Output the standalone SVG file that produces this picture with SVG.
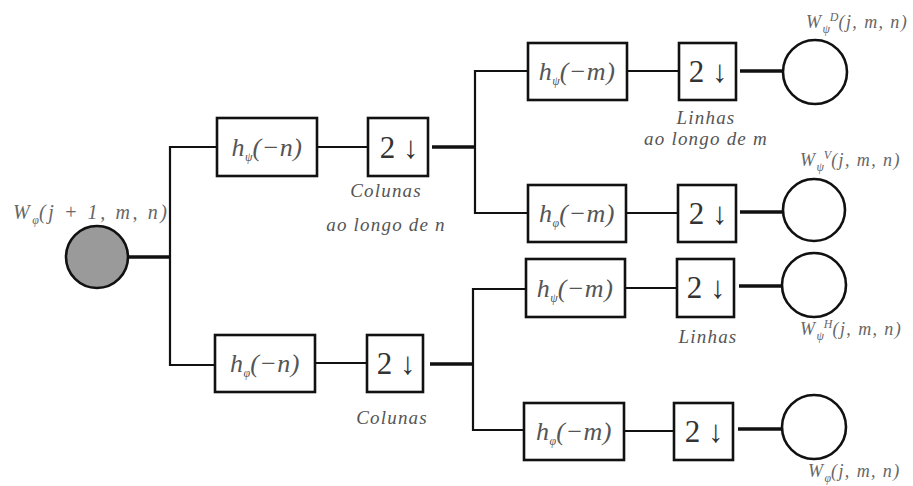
<svg xmlns="http://www.w3.org/2000/svg" width="913" height="486" viewBox="0 0 913 486">
<style>
.box{fill:#fff;stroke:#111;stroke-width:2.6}
.c{fill:none;stroke:#111;stroke-width:2.2}
.ct{fill:none;stroke:#111;stroke-width:3.6}
.circ{fill:#fff;stroke:#111;stroke-width:2.6}
.f{font-family:"Liberation Serif","Times New Roman",serif;font-style:italic;font-size:26px;fill:#555;text-anchor:middle;letter-spacing:0.5px}
.d{font-family:"Liberation Serif","Times New Roman",serif;font-size:31px;fill:#333;text-anchor:middle}
.lab{font-family:"Liberation Serif","Times New Roman",serif;font-style:italic;font-size:19px;fill:#555;text-anchor:middle;letter-spacing:1.2px}
.w{font-family:"Liberation Serif","Times New Roman",serif;font-style:italic;font-size:18px;fill:#666;letter-spacing:1.4px}
.s{font-size:12px;letter-spacing:0}
</style>
<rect width="913" height="486" fill="#fff"/>
<g id="connectors">
<line class="ct" x1="128" y1="257" x2="171" y2="257"/>
<polyline class="c" points="218,147 170,147 170,365 215,365"/>
<line class="c" x1="317" y1="147" x2="368" y2="147"/>
<line class="c" x1="315" y1="363" x2="367" y2="363"/>
<line class="ct" x1="432" y1="147" x2="476" y2="147"/>
<line class="ct" x1="430" y1="364" x2="474" y2="364"/>
<polyline class="c" points="528,71 475,71 475,213 528,213"/>
<polyline class="c" points="526,289 473,289 473,430 525,430"/>
<line class="c" x1="627" y1="71" x2="679" y2="71"/>
<line class="c" x1="626" y1="213" x2="678" y2="213"/>
<line class="c" x1="625" y1="288" x2="677" y2="288"/>
<line class="c" x1="624" y1="431" x2="674" y2="431"/>
<line class="ct" x1="740" y1="71" x2="783" y2="71"/>
<line class="ct" x1="740" y1="212" x2="783" y2="212"/>
<line class="ct" x1="739" y1="286" x2="782" y2="286"/>
<line class="ct" x1="738" y1="429" x2="782" y2="429"/>
</g>
<g id="input">
<circle cx="97" cy="257" r="31" fill="#9a9a9a" stroke="#111" stroke-width="2.6"/>
<text class="w" x="13" y="219" style="font-size:20px;letter-spacing:2.6px">W<tspan class="s" dy="5">φ</tspan><tspan dy="-5">(j + 1, m, n)</tspan></text>
</g>
<g id="filter-psi-n">
<rect class="box" x="217" y="118" width="100" height="58"/>
<text class="f" x="267" y="156">h<tspan class="s" dy="5">ψ</tspan><tspan dy="-5">(−n)</tspan></text>
</g>
<g id="down-col-top">
<rect class="box" x="368" y="118" width="60" height="58"/>
<text class="d" x="399" y="158">2 ↓</text>
<text class="lab" x="386" y="197">Colunas</text>
<text class="lab" x="386" y="231">ao longo de n</text>
</g>
<g id="filter-phi-n">
<rect class="box" x="215" y="335" width="100" height="57"/>
<text class="f" x="265" y="372">h<tspan class="s" dy="5">φ</tspan><tspan dy="-5">(−n)</tspan></text>
</g>
<g id="down-col-bottom">
<rect class="box" x="367" y="335" width="56" height="57"/>
<text class="d" x="396" y="374">2 ↓</text>
<text class="lab" x="392" y="424">Colunas</text>
</g>
<g id="filter-psi-m-1">
<rect class="box" x="528" y="43" width="99" height="57"/>
<text class="f" x="577" y="80">h<tspan class="s" dy="5">ψ</tspan><tspan dy="-5">(−m)</tspan></text>
</g>
<g id="down-row-1">
<rect class="box" x="679" y="43" width="57" height="57"/>
<text class="d" x="708" y="82">2 ↓</text>
<text class="lab" x="706" y="124">Linhas</text>
<text class="lab" x="706" y="145">ao longo de m</text>
</g>
<g id="out-D">
<circle class="circ" cx="815" cy="72" r="32"/>
<text class="w" x="806" y="28">W<tspan class="s" dy="5">ψ</tspan><tspan class="s" dy="-12">D</tspan><tspan dy="7">(j, m, n)</tspan></text>
</g>
<g id="filter-phi-m-1">
<rect class="box" x="528" y="185" width="98" height="57"/>
<text class="f" x="577" y="222">h<tspan class="s" dy="5">φ</tspan><tspan dy="-5">(−m)</tspan></text>
</g>
<g id="down-row-2">
<rect class="box" x="678" y="185" width="58" height="57"/>
<text class="d" x="708" y="224">2 ↓</text>
</g>
<g id="out-V">
<circle class="circ" cx="814" cy="210" r="31"/>
<text class="w" x="800" y="166">W<tspan class="s" dy="5">ψ</tspan><tspan class="s" dy="-12">V</tspan><tspan dy="7">(j, m, n)</tspan></text>
</g>
<g id="filter-psi-m-2">
<rect class="box" x="526" y="259" width="99" height="58"/>
<text class="f" x="575" y="297">h<tspan class="s" dy="5">ψ</tspan><tspan dy="-5">(−m)</tspan></text>
</g>
<g id="down-row-3">
<rect class="box" x="677" y="259" width="57" height="58"/>
<text class="d" x="706" y="298">2 ↓</text>
<text class="lab" x="708" y="343">Linhas</text>
</g>
<g id="out-H">
<circle class="circ" cx="814" cy="285" r="32"/>
<text class="w" x="800" y="335">W<tspan class="s" dy="5">ψ</tspan><tspan class="s" dy="-12">H</tspan><tspan dy="7">(j, m, n)</tspan></text>
</g>
<g id="filter-phi-m-2">
<rect class="box" x="524" y="403" width="100" height="57"/>
<text class="f" x="574" y="440">h<tspan class="s" dy="5">φ</tspan><tspan dy="-5">(−m)</tspan></text>
</g>
<g id="down-row-4">
<rect class="box" x="674" y="403" width="59" height="57"/>
<text class="d" x="704" y="442">2 ↓</text>
</g>
<g id="out-W">
<circle class="circ" cx="814" cy="427" r="32"/>
<text class="w" x="808" y="477">W<tspan class="s" dy="5">φ</tspan><tspan dy="-5">(j, m, n)</tspan></text>
</g>
</svg>
